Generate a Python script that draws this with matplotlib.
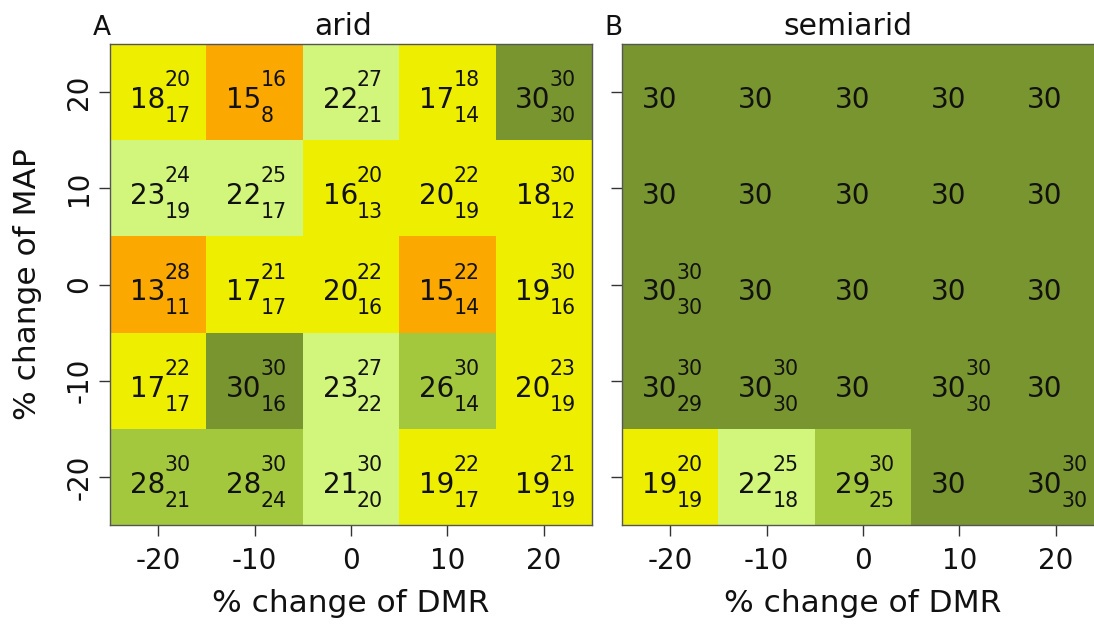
import numpy as np
import matplotlib
matplotlib.use('Agg')
import matplotlib.pyplot as plt
from matplotlib.colors import ListedColormap, BoundaryNorm

plt.rcParams['axes.unicode_minus'] = False

# axes values (% change)
dmr = [-20, -10, 0, 10, 20]
map_ = [20, 10, 0, -10, -20]   # rows from top to bottom

# arid: median value, lower (subscript) and upper (superscript)
arid_mid = [[18, 15, 22, 17, 30],
            [23, 22, 16, 20, 18],
            [13, 17, 20, 15, 19],
            [17, 30, 23, 26, 20],
            [28, 28, 21, 19, 19]]
arid_lo = [[17, 8, 21, 14, 30],
           [19, 17, 13, 19, 12],
           [11, 17, 16, 14, 16],
           [17, 16, 22, 14, 19],
           [21, 24, 20, 17, 19]]
arid_hi = [[20, 16, 27, 18, 30],
           [24, 25, 20, 22, 30],
           [28, 21, 22, 22, 30],
           [22, 30, 27, 30, 23],
           [30, 30, 30, 22, 21]]

# semiarid (None = no range shown)
semi_mid = [[30, 30, 30, 30, 30],
            [30, 30, 30, 30, 30],
            [30, 30, 30, 30, 30],
            [30, 30, 30, 30, 30],
            [19, 22, 29, 30, 30]]
semi_lo = [[None, None, None, None, None],
           [None, None, None, None, None],
           [30, None, None, None, None],
           [29, 30, None, 30, None],
           [19, 18, 25, None, 30]]
semi_hi = [[None, None, None, None, None],
           [None, None, None, None, None],
           [30, None, None, None, None],
           [30, 30, None, 30, None],
           [20, 25, 30, None, 30]]

titles = ['arid', 'semiarid']
panel_tags = ['A', 'B']

# renk sinifları
renkler = ['#FBA800', '#EEEE00', '#D2F57C', '#A4C83D', '#789530']
cmap = ListedColormap(renkler)
norm = BoundaryNorm([0, 16, 21, 26, 30, 31], cmap.N)

W, H = 1094, 624
fig = plt.figure(figsize=(W / 100, H / 100), dpi=100)

ax1 = fig.add_axes([110 / W, 1 - 525 / H, 482 / W, 481 / H])
ax2 = fig.add_axes([622 / W, 1 - 525 / H, 482 / W, 481 / H])

px = 10 / 96.4   # one pixel in data units
x_edges = np.arange(-25, 26, 10)
y_edges = np.arange(-25, 26, 10)

panels = [(ax1, arid_mid, arid_lo, arid_hi), (ax2, semi_mid, semi_lo, semi_hi)]

for k, (ax, mid, lo, hi) in enumerate(panels):
    Z = np.array(mid, dtype=float)[::-1]   # bottom row first for pcolormesh
    ax.pcolormesh(x_edges, y_edges, Z, cmap=cmap, norm=norm)
    for r, yv in enumerate(map_):
        for c, xv in enumerate(dmr):
            ax.text(xv + 7 * px, yv - 16 * px, str(mid[r][c]), ha='right', va='baseline',
                    fontsize=20, color='#111111')
            if hi[r][c] is not None:
                ax.text(xv + 6 * px, yv + 6 * px, str(hi[r][c]), ha='left', va='baseline',
                        fontsize=14.8, color='#111111')
            if lo[r][c] is not None:
                ax.text(xv + 6 * px, yv - 30 * px, str(lo[r][c]), ha='left', va='baseline',
                        fontsize=14.8, color='#111111')

    ax.set_xlim(-25, 25)
    ax.set_ylim(-25, 25)
    ax.set_xticks(dmr)
    ax.set_yticks(map_)
    ax.tick_params(axis='both', direction='out', length=8, width=1, color='#333333',
                   labelsize=20, labelcolor='#111111')
    ax.tick_params(axis='x', pad=8)
    ax.tick_params(axis='y', pad=4)
    for s in ax.spines.values():
        s.set_color('#555555')
        s.set_linewidth(1)
    ax.set_xlabel('% change of DMR', fontsize=22.5, color='#111111')
    ax.xaxis.set_label_coords(0.5, (525 - 589) / 481)

plt.setp(ax1.get_yticklabels(), rotation=90, va='center')
ax2.set_yticklabels([])
ax1.set_ylabel('% change of MAP', fontsize=22.5, color='#111111')
ax1.yaxis.set_label_coords((42 - 110) / 482, 0.5)

# titles and panel letters
fig.text(343 / W, 1 - 35 / H, titles[0], ha='center', va='baseline', fontsize=21.5, color='#111111')
fig.text(847.5 / W, 1 - 35 / H, titles[1], ha='center', va='baseline', fontsize=21.5, color='#111111')
fig.text(93 / W, 1 - 35 / H, panel_tags[0], ha='left', va='baseline', fontsize=19, color='#111111')
fig.text(604 / W, 1 - 35 / H, panel_tags[1], ha='left', va='baseline', fontsize=19, color='#111111')

fig.savefig('out.png', dpi=100)
